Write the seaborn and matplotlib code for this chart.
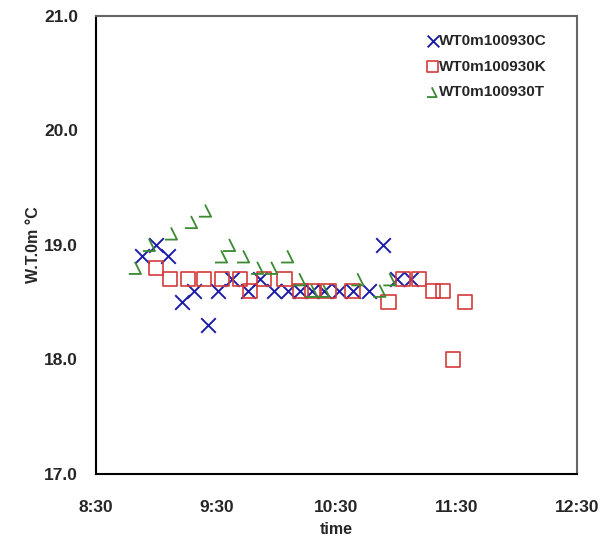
import matplotlib
matplotlib.use("Agg")
import matplotlib.pyplot as plt
from matplotlib.path import Path
from matplotlib.ticker import FuncFormatter, FixedLocator
import seaborn as sns
import pandas as pd

# ---- data ----
c_times = ["8:53", "9:00", "9:06", "9:13", "9:19", "9:26", "9:31", "9:38", "9:46", "9:52", "9:59",
           "10:06", "10:12", "10:18", "10:24", "10:31", "10:38", "10:46", "10:53", "11:00", "11:07"]
c_vals = [18.9, 19.0, 18.9, 18.5, 18.6, 18.3, 18.6, 18.7, 18.6, 18.7, 18.6,
          18.6, 18.6, 18.6, 18.6, 18.6, 18.6, 18.6, 19.0, 18.7, 18.7]

k_times = ["9:00", "9:07", "9:16", "9:24", "9:33", "9:42", "9:47", "9:54", "10:04", "10:12",
           "10:18", "10:26", "10:38", "10:56", "11:03", "11:11", "11:18", "11:23", "11:28", "11:34"]
k_vals = [18.8, 18.7, 18.7, 18.7, 18.7, 18.7, 18.6, 18.7, 18.7, 18.6,
          18.6, 18.6, 18.6, 18.5, 18.7, 18.7, 18.6, 18.6, 18.0, 18.5]

t_times = ["8:50", "8:57", "9:08", "9:18", "9:25", "9:33", "9:37", "9:44", "9:51", "9:58",
           "10:06", "10:12", "10:18", "10:24", "10:41", "10:52", "10:57"]
t_vals = [18.8, 19.0, 19.1, 19.2, 19.3, 18.9, 19.0, 18.9, 18.8, 18.8,
          18.9, 18.7, 18.6, 18.6, 18.7, 18.6, 18.7]

series_names = ["WT0m100930C", "WT0m100930K", "WT0m100930T"]
x_tick_labels = ["8:30", "9:30", "10:30", "11:30", "12:30"]
y_ticks = [17.0, 18.0, 19.0, 20.0, 21.0]


def to_min(s):
    h, m = s.split(":")
    return int(h) * 60 + int(m)


dfs = {
    series_names[0]: pd.DataFrame({"time": [to_min(t) for t in c_times], "val": c_vals}),
    series_names[1]: pd.DataFrame({"time": [to_min(t) for t in k_times], "val": k_vals}),
    series_names[2]: pd.DataFrame({"time": [to_min(t) for t in t_times], "val": t_vals}),
}

sns.set_style("white")
plt.rcParams["font.family"] = ["Liberation Sans", "DejaVu Sans"]
plt.rcParams["font.weight"] = "bold"

fig = plt.figure(figsize=(6.14, 5.42), dpi=100)
ax = fig.add_axes([0.1564, 0.1255, 0.7833, 0.8450])

tri_marker = Path([(-0.1, 0.5), (0.4, -0.5), (-0.6, -0.5)],
                  [Path.MOVETO, Path.LINETO, Path.LINETO])

sns.scatterplot(data=dfs[series_names[0]], x="time", y="val", ax=ax, marker="x",
                color="#1c1ca8", s=110, linewidth=1.4, label=series_names[0])
sns.scatterplot(data=dfs[series_names[1]], x="time", y="val", ax=ax, marker="s",
                facecolors="none", edgecolor="#d43a3a", s=105, linewidth=1.2,
                label=series_names[1])
sns.scatterplot(data=dfs[series_names[2]], x="time", y="val", ax=ax, marker=tri_marker,
                facecolors="none", edgecolor="#3a8a32", color="#3a8a32", s=110,
                linewidth=1.3, label=series_names[2])

ax.set_xlim(to_min("8:30"), to_min("12:30"))
ax.set_ylim(17.0, 21.0)
ax.xaxis.set_major_locator(FixedLocator([to_min(t) for t in x_tick_labels]))
ax.xaxis.set_major_formatter(FuncFormatter(lambda v, p: f"{int(v)//60}:{int(v)%60:02d}"))
ax.yaxis.set_major_locator(FixedLocator(y_ticks))
ax.yaxis.set_major_formatter(FuncFormatter(lambda v, p: f"{v:.1f}"))

ax.tick_params(axis="x", direction="in", length=5, width=1, color="black",
               labelsize=12.5, pad=19)
ax.tick_params(axis="y", direction="in", length=4, width=0.8, color="#cccccc",
               labelsize=12.5, pad=13)
for lab in ax.get_xticklabels() + ax.get_yticklabels():
    lab.set_fontweight("bold")

ax.set_xlabel("time", fontsize=11.5, fontweight="bold", labelpad=5)
ax.set_ylabel("W.T.0m °C", fontsize=11.5, fontweight="bold", labelpad=2)

for side in ["left", "bottom"]:
    ax.spines[side].set_color("black")
    ax.spines[side].set_linewidth(1.5)
for side in ["top", "right"]:
    ax.spines[side].set_color("#666666")
    ax.spines[side].set_linewidth(1.5)

leg = ax.legend(loc="upper left", bbox_to_anchor=(0.662, 0.99), frameon=False,
                handlelength=0.6, handletextpad=0.1, labelspacing=0.75,
                prop={"weight": "bold", "size": 11}, markerscale=0.8)

fig.savefig("out.png", dpi=100)
